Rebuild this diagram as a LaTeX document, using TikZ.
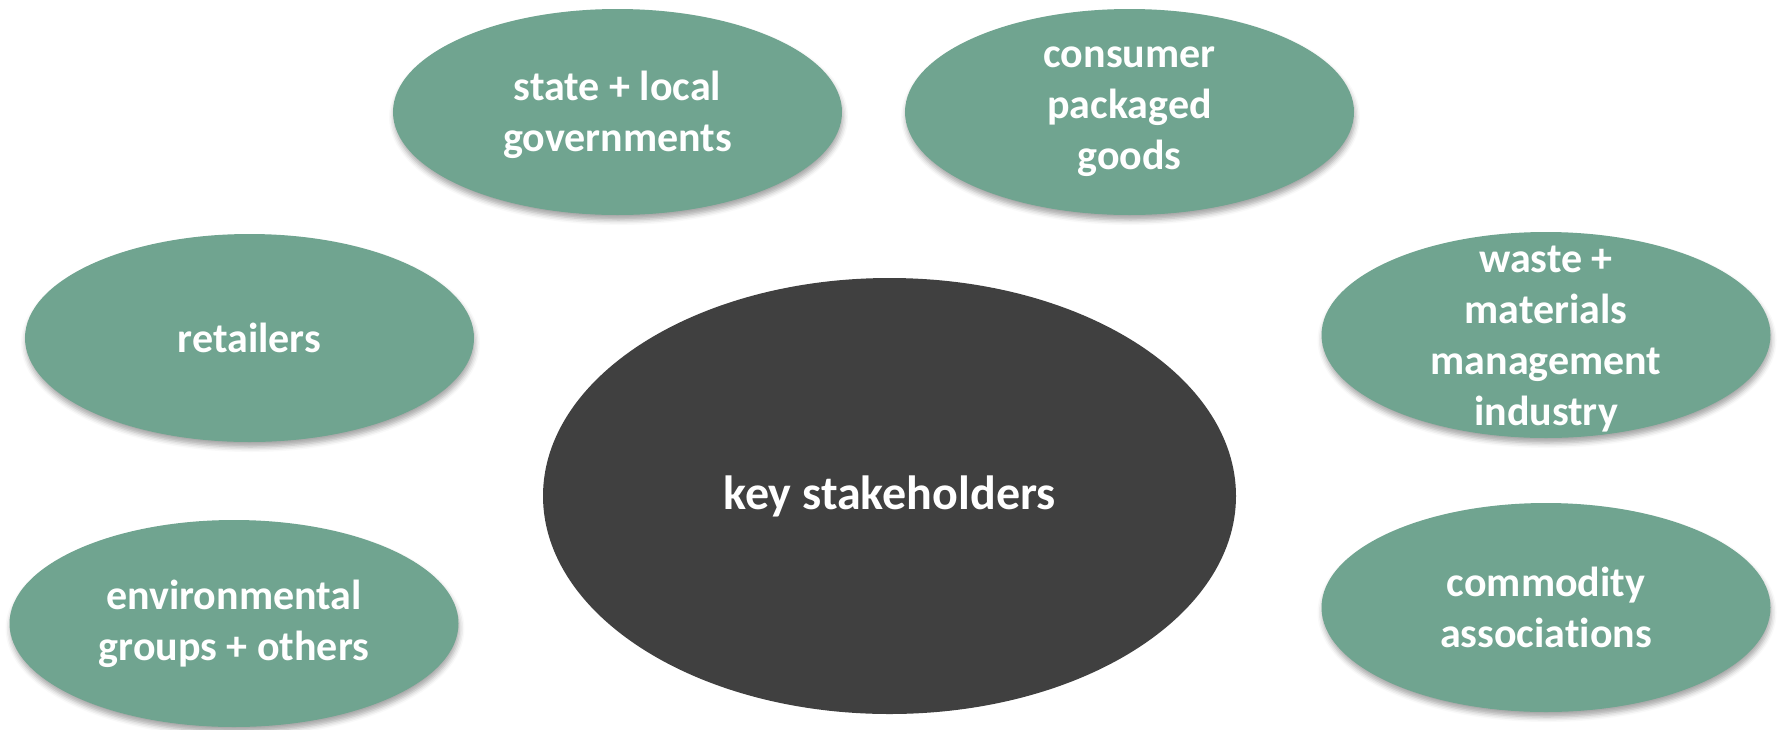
\documentclass[tikz,border=0pt]{standalone}
\usepackage{fontspec}
\setmainfont{Carlito}[Ligatures=NoCommon]
\usetikzlibrary{shapes.geometric,shadows.blur}
\definecolor{stakegreen}{HTML}{70A490}
\definecolor{keygray}{HTML}{404040}
\tikzset{
  stakebox/.style={ellipse, fill=stakegreen, draw=none, inner sep=0pt,
    minimum width=224.5pt,
    blur shadow={shadow xshift=0.5pt, shadow yshift=-2.5pt, shadow blur radius=2.5pt, shadow opacity=35}},
  staketext/.style={text=white, align=center, font=\bfseries\fontsize{21}{25.5}\selectfont}
}
\begin{document}
\begin{tikzpicture}[x=0.5pt,y=-0.5pt]
  \useasboundingbox (0,0) rectangle (1777,729);
  % centre
  \node[ellipse, fill=keygray, inner sep=0pt, minimum width=346.5pt, minimum height=218pt,
    label={[staketext, font=\bfseries\fontsize{24}{29}\selectfont]center:key stakeholders}] (key) at (889.5,496) {};
  % stakeholder groups
  \node[stakebox, minimum height=103pt,
    label={[staketext, yshift=-1.5pt]center:{state + local\\governments}}] (gov) at (617.5,112) {};
  \node[stakebox, minimum height=103pt,
    label={[staketext]center:{consumer\\packaged\\goods}}] (cpg) at (1129.5,112) {};
  \node[stakebox, minimum height=104pt,
    label={[staketext]center:retailers}] (retail) at (249.5,338) {};
  \node[stakebox, minimum height=103pt,
    label={[staketext, yshift=-2pt]center:{waste +\\materials\\management\\industry}}] (waste) at (1546,335) {};
  \node[stakebox, minimum height=103.5pt,
    label={[staketext]center:{environmental\\groups + others}}] (env) at (234,623.5) {};
  \node[stakebox, minimum height=104.5pt,
    label={[staketext]center:{commodity\\associations}}] (comm) at (1546,607.5) {};
\end{tikzpicture}
\end{document}
